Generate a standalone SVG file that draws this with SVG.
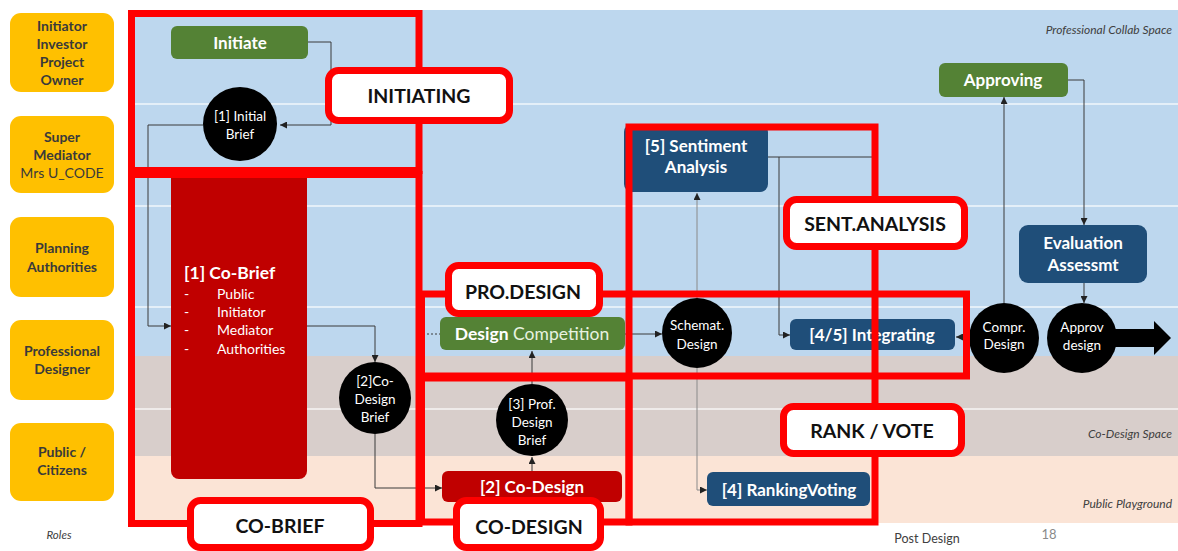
<svg xmlns="http://www.w3.org/2000/svg" width="1178" height="551" viewBox="0 0 1178 551">
<defs>
<style>
text{font-family:Lato,"Open Sans","Liberation Sans",sans-serif}
.role{fill:#FFC000}
.rt{font-size:14px;font-weight:bold;fill:#3a3a3a;text-anchor:middle}
.rtn{font-size:14px;fill:#3a3a3a;text-anchor:middle}
.frame{fill:none;stroke:#FF0000;stroke-width:7}
.lab{fill:#fff;stroke:#FF0000;stroke-width:7}
.lt{font-size:19.5px;font-weight:bold;fill:#111;text-anchor:middle}
.green{fill:#548235}
.blue{fill:#1F4E79}
.dred{fill:#C00000}
.nt{font-size:17px;font-weight:bold;fill:#fff;text-anchor:middle}
.ct{font-size:13.5px;fill:#fff;text-anchor:middle}
.con{fill:none;stroke:#3a3a3a;stroke-width:1}
.conl{fill:none;stroke:#8a8a8a;stroke-width:1}
.side{font-size:12px;font-style:italic;fill:#404040;text-anchor:end}
.wl{stroke:#ffffff;stroke-width:1.5;opacity:0.8}
</style>
<marker id="arr" viewBox="0 0 10 10" refX="10" refY="5" markerWidth="7" markerHeight="7" markerUnits="userSpaceOnUse" orient="auto"><path d="M0,0 L10,5 L0,10 z" fill="#222"/></marker>
</defs>
<rect width="1178" height="551" fill="#ffffff"/>
<g id="bands">
<rect x="128" y="10" width="1050" height="346" fill="#BDD7EE"/>
<rect x="128" y="356" width="1050" height="100" fill="#D8CECB"/>
<rect x="128" y="456" width="1050" height="67" fill="#FBE4D6"/>
<line class="wl" x1="128" y1="104" x2="1178" y2="104"/>
<line class="wl" x1="128" y1="206" x2="1178" y2="206"/>
<line class="wl" x1="128" y1="307" x2="1178" y2="307"/>
<line class="wl" x1="128" y1="409" x2="1178" y2="409"/>
</g>
<g id="roles">
<g id="role-initiator"><rect class="role" x="10" y="13" width="104" height="79" rx="11"/>
<text class="rt" x="62" y="31">Initiator</text><text class="rt" x="62" y="49">Investor</text><text class="rt" x="62" y="67">Project</text><text class="rt" x="62" y="85">Owner</text></g>
<g id="role-mediator"><rect class="role" x="10" y="116" width="104" height="77" rx="11"/>
<text class="rt" x="62" y="142">Super</text><text class="rt" x="62" y="160">Mediator</text><text class="rtn" x="62" y="178">Mrs U_CODE</text></g>
<g id="role-planning"><rect class="role" x="10" y="217" width="104" height="80" rx="11"/>
<text class="rt" x="62" y="253">Planning</text><text class="rt" x="62" y="272">Authorities</text></g>
<g id="role-designer"><rect class="role" x="10" y="320" width="104" height="80" rx="11"/>
<text class="rt" x="62" y="356">Professional</text><text class="rt" x="62" y="374">Designer</text></g>
<g id="role-public"><rect class="role" x="10" y="423" width="104" height="78" rx="11"/>
<text class="rt" x="62" y="457">Public /</text><text class="rt" x="62" y="475">Citizens</text></g>
</g>
<g id="connectors">
<path class="con" d="M308,42 H331 V125 H280" marker-end="url(#arr)"/>
<path class="con" d="M203,125 H148 V326 H171" marker-end="url(#arr)"/>
<path class="con" d="M307,326 H375 V362" marker-end="url(#arr)"/>
<path class="con" d="M375,434 V488 H442" marker-end="url(#arr)"/>
<path class="con" d="M532,471 V457" marker-end="url(#arr)"/>
<path class="con" d="M532,384 V351" marker-end="url(#arr)"/>
<path class="con" d="M423,334 H440" stroke-dasharray="2,2"/>
<path class="con" d="M625,334 H662" marker-end="url(#arr)"/>
<path class="conl" d="M697,298 V193" marker-end="url(#arr)"/>
<path class="conl" d="M697,368 V490 H707" marker-end="url(#arr)"/>
<path class="con" d="M768,157 H874"/>
<path class="con" d="M779,157 V335 H790" marker-end="url(#arr)"/>
<path class="con" d="M970,337 H956" marker-end="url(#arr)"/>
<path class="con" d="M1004,303 V97" marker-end="url(#arr)"/>
<path class="con" d="M1068,80 H1084 V225" marker-end="url(#arr)"/>
<path class="con" d="M1084,283 V303" marker-end="url(#arr)"/>
<polygon points="1110,329 1154,329 1154,321 1171,338 1154,355 1154,347 1110,347" fill="#000"/>
</g>
<g id="n-initiate"><rect class="green" x="171" y="26" width="137" height="33" rx="6"/><text class="nt" x="240" y="48.5">Initiate</text></g>
<g id="n-initial-brief"><circle cx="240" cy="124" r="37" fill="#000"/><text class="ct" x="240" y="120.5">[1] Initial</text><text class="ct" x="240" y="138.5">Brief</text></g>
<g id="n-cobrief"><rect class="dred" x="171" y="170" width="136" height="309" rx="8"/>
<text x="184" y="279" font-size="17.5px" font-weight="bold" fill="#fff">[1] Co-Brief</text>
<g font-size="14px" fill="#fff"><text x="184" y="299">-</text><text x="217" y="299">Public</text>
<text x="184" y="317">-</text><text x="217" y="317">Initiator</text>
<text x="184" y="335">-</text><text x="217" y="335">Mediator</text>
<text x="184" y="354">-</text><text x="217" y="354">Authorities</text></g></g>
<g id="n-codesign-brief"><circle cx="375" cy="398" r="36" fill="#000"/><text class="ct" x="375" y="385.5">[2]Co-</text><text class="ct" x="375" y="403.5">Design</text><text class="ct" x="375" y="421.5">Brief</text></g>
<g id="n-design-competition"><rect class="green" x="440" y="317" width="185" height="33" rx="6"/><text x="532" y="340" font-size="17.5px" text-anchor="middle" fill="#fff"><tspan font-weight="bold">Design</tspan><tspan fill="#E8F2E0"> Competition</tspan></text></g>
<g id="n-prof-brief"><circle cx="532" cy="420" r="36" fill="#000"/><text class="ct" x="532" y="408.5">[3] Prof.</text><text class="ct" x="532" y="426.5">Design</text><text class="ct" x="532" y="444.5">Brief</text></g>
<g id="n-codesign"><rect class="dred" x="442" y="471" width="180" height="31" rx="6"/><text class="nt" x="532" y="493" font-weight="normal">[2] Co-Design</text></g>
<g id="n-schemat"><circle cx="697" cy="333" r="35" fill="#000"/><text class="ct" x="697" y="329.5">Schemat.</text><text class="ct" x="697" y="348.5">Design</text></g>
<g id="n-sentiment"><rect class="blue" x="624" y="124" width="144" height="68" rx="8"/><text class="nt" x="696" y="151.5" font-size="16px">[5] Sentiment</text><text class="nt" x="696" y="172.5" font-size="16px">Analysis</text></g>
<g id="n-integrating"><rect class="blue" x="790" y="319" width="165" height="31" rx="6"/><text class="nt" x="872" y="341">[4/5] Integrating</text></g>
<g id="n-ranking"><rect class="blue" x="707" y="472" width="163" height="34" rx="6"/><text class="nt" x="789" y="495.5">[4] RankingVoting</text></g>
<g id="n-approving"><rect class="green" x="939" y="63" width="129" height="34" rx="6"/><text class="nt" x="1003" y="86">Approving</text></g>
<g id="n-evaluation"><rect class="blue" x="1019" y="225" width="128" height="58" rx="9"/><text class="nt" x="1083" y="249">Evaluation</text><text class="nt" x="1083" y="271">Assessmt</text></g>
<g id="n-compr"><circle cx="1004" cy="338" r="35" fill="#000"/><text class="ct" x="1004" y="331.5">Compr.</text><text class="ct" x="1004" y="348.5">Design</text></g>
<g id="n-approv"><circle cx="1082" cy="338" r="35" fill="#000"/><text class="ct" x="1082" y="331.5">Approv</text><text class="ct" x="1082" y="349.5">design</text></g>
<g id="frames">
<rect class="frame" x="131.5" y="13.5" width="287.5" height="157"/>
<rect class="frame" x="131.5" y="174.5" width="287.5" height="349"/>
<rect class="frame" x="421.5" y="294" width="545" height="82"/>
<rect class="frame" x="421.5" y="378" width="207.5" height="144"/>
<rect class="frame" x="629" y="127" width="246" height="395"/>
</g>
<g id="labels">
<g id="lab-initiating"><rect class="lab" x="328.5" y="70.5" width="181" height="50" rx="10"/><text class="lt" x="419" y="102.5">INITIATING</text></g>
<g id="lab-cobrief"><rect class="lab" x="190.5" y="500.5" width="180" height="47" rx="10"/><text class="lt" x="280" y="532.5">CO-BRIEF</text></g>
<g id="lab-prodesign"><rect class="lab" x="448.5" y="265.5" width="151" height="48" rx="10"/><text class="lt" x="523" y="298.5">PRO.DESIGN</text></g>
<g id="lab-codesign"><rect class="lab" x="456.5" y="500.5" width="144" height="47" rx="10"/><text class="lt" x="529" y="533.5">CO-DESIGN</text></g>
<g id="lab-sent"><rect class="lab" x="786.5" y="199.5" width="178" height="47" rx="10"/><text class="lt" x="875" y="230.5">SENT.ANALYSIS</text></g>
<g id="lab-rank"><rect class="lab" x="783.5" y="406.5" width="178" height="47" rx="10"/><text class="lt" x="872" y="437.5">RANK / VOTE</text></g>
</g>
<g id="annotations">
<text class="side" x="1172" y="34">Professional Collab Space</text>
<text class="side" x="1172" y="438">Co-Design Space</text>
<text class="side" x="1172" y="508">Public Playground</text>
<text x="59" y="539" font-size="11.5px" font-style="italic" fill="#404040" text-anchor="middle">Roles</text>
<text x="927" y="543" font-size="12.5px" fill="#404040" text-anchor="middle">Post Design</text>
<text x="1049" y="539" font-size="13px" fill="#8a8a8a" text-anchor="middle">18</text>
</g>
</svg>
